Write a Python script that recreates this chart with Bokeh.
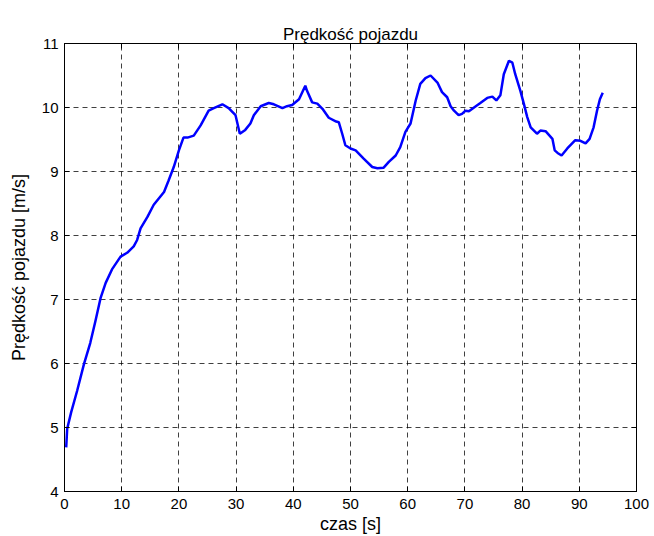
from bokeh.plotting import figure
from bokeh.models import Range1d, LinearAxis, FixedTicker
from bokeh.embed import file_html
from bokeh.resources import INLINE

czas = [0.3, 0.47, 1.17, 2.2, 3.4, 4.5, 5.4, 6.3, 7.2, 8.3, 9.8, 10.95, 12.1, 12.7,
        13.3, 14.5, 15.6, 17.4, 18.2, 19.1, 20.0, 20.8, 21.5, 22.6, 23.8, 25.2, 26.1,
        27.6, 28.7, 29.9, 30.65, 31.6, 32.5, 33.1, 34.3, 35.7, 36.6, 38.1, 38.9, 39.8,
        41.0, 42.1, 42.4, 43.3, 44.2, 45.1, 46.2, 47.5, 47.95, 48.55, 49.1, 50.0, 50.9,
        52.3, 53.8, 54.7, 55.8, 56.7, 57.9, 58.7, 59.6, 60.5, 61.4, 62.2, 63.1, 64.0,
        65.2, 66.0, 66.9, 67.5, 68.1, 68.9, 69.5, 70.1, 70.7, 71.6, 72.7, 73.9, 74.8,
        75.5, 76.2, 76.8, 77.7, 78.3, 78.8, 79.7, 80.3, 80.9, 81.5, 82.6, 83.2, 84.1,
        85.3, 85.7, 86.2, 86.9, 87.9, 89.3, 90.2, 91.1, 91.8, 92.5, 93.1, 93.6, 94.1]
predkosc = [4.69, 4.98, 5.24, 5.57, 5.99, 6.32, 6.66, 7.02, 7.26, 7.47, 7.67, 7.73, 7.83, 7.93,
            8.11, 8.29, 8.48, 8.68, 8.86, 9.07, 9.33, 9.53, 9.53, 9.56, 9.72, 9.95, 9.99,
            10.05, 9.99, 9.88, 9.59, 9.65, 9.75, 9.88, 10.02, 10.07, 10.05, 9.99, 10.02, 10.04,
            10.13, 10.34, 10.26, 10.08, 10.06, 9.98, 9.84, 9.78, 9.77, 9.59, 9.41, 9.36, 9.33,
            9.20, 9.07, 9.05, 9.06, 9.15, 9.25, 9.38, 9.62, 9.75, 10.11, 10.37, 10.46, 10.50,
            10.39, 10.24, 10.16, 10.02, 9.95, 9.88, 9.90, 9.95, 9.94, 10.0, 10.07, 10.15, 10.17,
            10.11, 10.19, 10.52, 10.73, 10.70, 10.52, 10.26, 10.06, 9.85, 9.69, 9.59, 9.64, 9.63,
            9.51, 9.33, 9.29, 9.25, 9.36, 9.49, 9.48, 9.44, 9.51, 9.69, 9.95, 10.13, 10.23]

x_ticks = [0, 10, 20, 30, 40, 50, 60, 70, 80, 90, 100]
y_ticks = [4, 5, 6, 7, 8, 9, 10, 11]

FONT = "Liberation Sans"

p = figure(width=654, height=536, output_backend="svg", toolbar_location=None,
           x_range=Range1d(0, 100), y_range=Range1d(4, 11),
           min_border_left=64, min_border_right=18, min_border_top=43, min_border_bottom=44,
           title="Prędkość pojazdu")

p.title.align = "center"
p.title.text_font = FONT
p.title.text_font_size = "17px"
p.title.text_font_style = "normal"
p.title.text_color = "black"
p.title.standoff = 0
p.title.offset = 0

p.line(czas, predkosc, line_color="#0000FF", line_width=2.5)

p.outline_line_color = "black"
p.outline_line_width = 1
p.outline_line_alpha = 1

for ax in (p.xaxis[0], p.yaxis[0]):
    ax.major_tick_in = 5
    ax.major_tick_out = 0
    ax.minor_tick_in = 0
    ax.minor_tick_out = 0
    ax.axis_line_color = "black"
    ax.major_tick_line_color = "black"
    ax.major_label_text_font = FONT
    ax.major_label_text_font_size = "15px"
    ax.major_label_text_color = "black"
    ax.axis_label_text_font = FONT
    ax.axis_label_text_font_size = "18px"
    ax.axis_label_text_font_style = "normal"
    ax.axis_label_text_color = "black"

p.xaxis[0].ticker = FixedTicker(ticks=x_ticks)
p.yaxis[0].ticker = FixedTicker(ticks=y_ticks)
p.xaxis[0].axis_label = "czas [s]"
p.yaxis[0].axis_label = "Prędkość pojazdu [m/s]"
p.xaxis[0].major_label_standoff = 7
p.xaxis[0].axis_label_standoff = 2
p.yaxis[0].major_label_standoff = 6
p.yaxis[0].axis_label_standoff = 10

top = LinearAxis(ticker=FixedTicker(ticks=x_ticks), major_tick_in=5, major_tick_out=0,
                 minor_tick_in=0, minor_tick_out=0, major_label_text_color=None,
                 major_label_standoff=0, axis_line_color="black")
right = LinearAxis(ticker=FixedTicker(ticks=y_ticks), major_tick_in=5, major_tick_out=0,
                   minor_tick_in=0, minor_tick_out=0, major_label_text_color=None,
                   major_label_standoff=0, axis_line_color="black")
p.add_layout(top, "above")
p.add_layout(right, "right")

for g, t in ((p.xgrid[0], x_ticks), (p.ygrid[0], y_ticks)):
    g.ticker = FixedTicker(ticks=t)
    g.grid_line_color = "black"
    g.grid_line_alpha = 0.75
    g.grid_line_dash = "5 4"
    g.grid_line_width = 1

open("out.html", "w").write(file_html(p, INLINE))
